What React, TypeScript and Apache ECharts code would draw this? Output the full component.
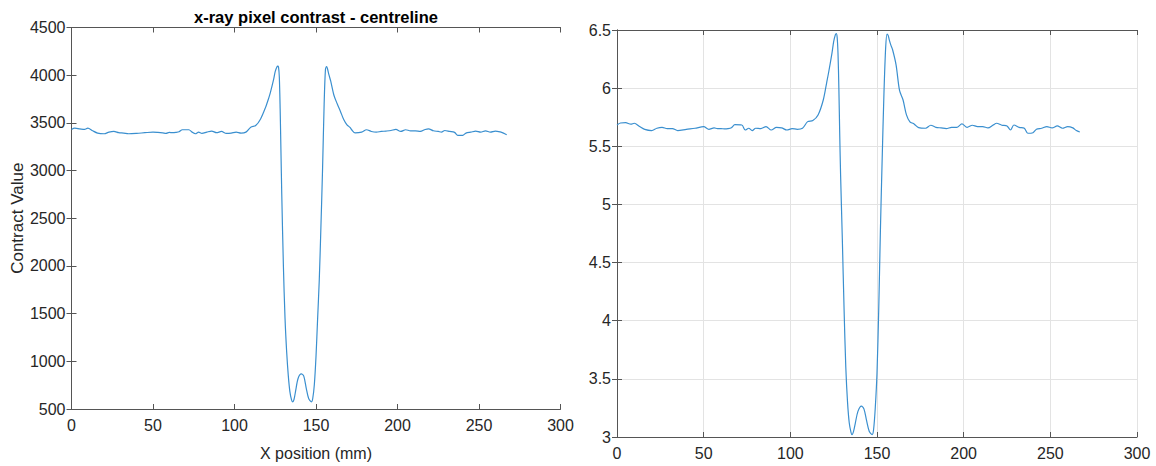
import React, { useEffect, useRef } from "react";
import * as echarts from "echarts";

// X positions (mm) shared by both profiles
const xPos = [
  0, 2, 5, 8, 10, 13, 16, 20, 23, 26, 29, 32, 35, 40, 45, 50, 53, 56, 58, 60, 62, 64, 66, 68, 72, 74, 76, 78, 80, 83, 86, 89, 92, 95, 98, 101, 104, 107,
  110, 113, 116, 119, 121, 122, 124, 125, 126, 126.5, 127, 127.5, 128, 128.5, 129, 130, 131, 132, 133, 134, 135, 135.6, 136.5, 137.5, 139, 141, 142.5, 144, 145.5, 147.2, 148, 149, 150, 151, 152, 153, 154, 155, 155.8, 156.5, 157, 158, 159, 161, 163, 165, 167, 169, 171, 172, 174,
  178, 181, 184, 187, 190, 193, 196, 199, 202, 205, 208, 211, 214, 217, 219, 222, 225, 227, 229, 232, 235, 237, 240, 242, 245, 248, 251, 254, 257, 260, 263, 265, 267,
];

// Left panel: contrast value
const contrastValue = [
  3431, 3445, 3438, 3431, 3445, 3417, 3393, 3386, 3403, 3410, 3397, 3393, 3386, 3390, 3397, 3403, 3400, 3395, 3390, 3400, 3397, 3400, 3407, 3428, 3428, 3403, 3386, 3403, 3390, 3403, 3414, 3397, 3410, 3390, 3393, 3403, 3393, 3403,
  3455, 3472, 3541, 3660, 3760, 3817, 3955, 4040, 4086, 4095, 4085, 3980, 3650, 3200, 2750, 2000, 1450, 1100, 850, 680, 595, 575, 600, 690, 820, 868, 845, 720, 610, 575, 610, 760, 1050, 1450, 1850, 2400, 3000, 3700, 4060, 4090, 4070, 4000, 3940, 3790, 3700, 3620, 3535, 3480, 3450, 3425, 3395,
  3403, 3428, 3410, 3403, 3410, 3414, 3420, 3432, 3410, 3428, 3417, 3417, 3410, 3431, 3438, 3417, 3410, 3403, 3420, 3410, 3400, 3369, 3369, 3393, 3403, 3414, 3403, 3417, 3403, 3414, 3405, 3393, 3376,
];

// Right panel: transformed contrast
const contrastScaled = [
  5.683, 5.7, 5.703, 5.69, 5.698, 5.67, 5.645, 5.635, 5.655, 5.663, 5.652, 5.652, 5.635, 5.646, 5.655, 5.669, 5.646, 5.658, 5.652, 5.652, 5.65, 5.652, 5.66, 5.686, 5.683, 5.64, 5.655, 5.635, 5.655, 5.652, 5.669, 5.64, 5.663, 5.658, 5.64, 5.652, 5.646, 5.655,
  5.712, 5.721, 5.769, 5.898, 6.05, 6.128, 6.299, 6.4, 6.46, 6.47, 6.44, 6.3, 6.0, 5.6, 5.25, 4.7, 4.1, 3.6, 3.3, 3.12, 3.04, 3.02, 3.05, 3.12, 3.22, 3.265, 3.24, 3.14, 3.05, 3.02, 3.06, 3.25, 3.55, 4.1, 4.8, 5.4, 5.95, 6.35, 6.465, 6.45, 6.42, 6.37, 6.33, 6.2, 5.98, 5.9, 5.77, 5.71, 5.695, 5.683, 5.66,
  5.655, 5.681, 5.663, 5.658, 5.652, 5.663, 5.663, 5.692, 5.663, 5.681, 5.669, 5.669, 5.658, 5.683, 5.698, 5.681, 5.675, 5.64, 5.683, 5.663, 5.655, 5.612, 5.617, 5.646, 5.655, 5.669, 5.658, 5.675, 5.655, 5.669, 5.658, 5.635, 5.623,
];

const titleText = "x-ray pixel contrast - centreline";
const xAxisName = "X position (mm)";
const yAxisName = "Contract Value";

const FONT = "Liberation Sans, Arial, Helvetica, sans-serif";
const TXT = "#262626";
const AX = "#555555";
const LINE = "#3a8fcf";

export default function App() {
  const ref = useRef<HTMLDivElement>(null);
  useEffect(() => {
    document.body.style.margin = "0";
    if (!ref.current) return;
    const chart = echarts.init(ref.current, undefined, { renderer: "svg" });
    const n = Math.min(xPos.length, contrastValue.length, contrastScaled.length);
    const leftData = [] as number[][];
    const rightData = [] as number[][];
    for (let i = 0; i < n; i++) {
      leftData.push([xPos[i], contrastValue[i]]);
      rightData.push([xPos[i], contrastScaled[i]]);
    }
    const label = { color: TXT, fontFamily: FONT, fontSize: 16, formatter: (v: number) => String(v) };
    const axLine = { show: true, lineStyle: { color: AX, width: 1 } };
    const tick = { show: true, inside: true, length: 5, lineStyle: { color: AX } };
    const mkX = (gi: number, pos: "bottom" | "top", grid: boolean, named: boolean) => ({
      type: "value",
      gridIndex: gi,
      position: pos,
      min: 0,
      max: 300,
      interval: 50,
      axisLine: axLine,
      axisTick: tick,
      axisLabel: pos === "bottom" ? { ...label, margin: 8 } : { show: false },
      splitLine: { show: grid && pos === "bottom", lineStyle: { color: "#e3e3e3" } },
      name: named ? xAxisName : "",
      nameLocation: "middle",
      nameGap: 36,
      nameTextStyle: { color: TXT, fontFamily: FONT, fontSize: 16 },
    });
    const mkY = (gi: number, pos: "left" | "right", min: number, max: number, iv: number, grid: boolean, named: boolean) => ({
      type: "value",
      gridIndex: gi,
      position: pos,
      min,
      max,
      interval: iv,
      axisLine: axLine,
      axisTick: tick,
      axisLabel: pos === "left" ? { ...label, margin: 6 } : { show: false },
      splitLine: { show: grid && pos === "left", lineStyle: { color: "#e3e3e3" } },
      name: named ? yAxisName : "",
      nameLocation: "middle",
      nameGap: 46,
      nameTextStyle: { color: TXT, fontFamily: FONT, fontSize: 17 },
    });
    chart.setOption({
      animation: false,
      backgroundColor: "#ffffff",
      graphic: [
        {
          type: "text",
          x: 316,
          y: 17,
          style: {
            text: titleText,
            fill: "#000",
            font: `bold 16.5px ${FONT}`,
            textAlign: "center",
            textVerticalAlign: "middle",
          },
        },
      ],
      grid: [
        { left: 71.5, top: 27.5, width: 489, height: 384.5, containLabel: false },
        { left: 617, top: 30, width: 520, height: 407, containLabel: false },
      ],
      xAxis: [
        mkX(0, "bottom", false, true),
        mkX(0, "top", false, false),
        mkX(1, "bottom", true, false),
        mkX(1, "top", true, false),
      ],
      yAxis: [
        mkY(0, "left", 500, 4500, 500, false, true),
        mkY(0, "right", 500, 4500, 500, false, false),
        mkY(1, "left", 3, 6.5, 0.5, true, false),
        mkY(1, "right", 3, 6.5, 0.5, true, false),
      ],
      series: [
        {
          type: "line",
          xAxisIndex: 0,
          yAxisIndex: 0,
          data: leftData,
          showSymbol: false,
          smooth: 0.3,
          lineStyle: { color: LINE, width: 1.2 },
        },
        {
          type: "line",
          xAxisIndex: 2,
          yAxisIndex: 2,
          data: rightData,
          showSymbol: false,
          smooth: 0.3,
          lineStyle: { color: LINE, width: 1.2 },
        },
      ],
    });
    return () => chart.dispose();
  }, []);
  return <div ref={ref} style={{ width: 1156, height: 466 }} />;
}
